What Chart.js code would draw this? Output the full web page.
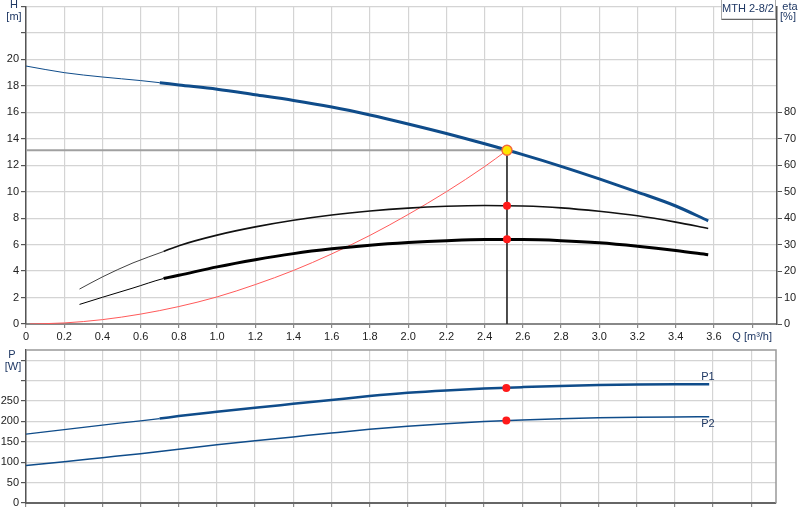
<!DOCTYPE html>
<html>
<head>
<meta charset="utf-8">
<script src="https://cdn.jsdelivr.net/npm/chart.js@4.4.1/dist/chart.umd.min.js"></script>
<style>
body{margin:0;background:#fff;}
#wrap{position:relative;width:800px;height:520px;}
#top{position:absolute;left:0;top:0;}
#bottom{position:absolute;left:0;top:345px;}
</style>
</head>
<body>
<div id="wrap">
<canvas id="top" width="800" height="345" style="width:800px;height:345px"></canvas>
<canvas id="bottom" width="800" height="175" style="width:800px;height:175px"></canvas>
</div>
<script>
// values
const qH = [0,0.2,0.4,0.6,0.7,0.8,1.0,1.2,1.4,1.6,1.8,2.0,2.2,2.4,2.6,2.8,3.0,3.2,3.4,3.57]
const headH = [19.5,19.0,18.67,18.4,18.24,18.07,17.75,17.33,16.9,16.4,15.8,15.12,14.4,13.62,12.8,11.92,10.97,9.97,8.92,7.8]

const qEta = [0.28,0.4,0.56,0.72,0.8,1.0,1.2,1.4,1.6,1.8,2.0,2.2,2.4,2.6,2.8,3.0,3.2,3.4,3.57]
const etaPump = [13.2,17.8,23.1,27.4,29.6,33.6,36.7,39.2,41.2,42.7,43.8,44.5,44.8,44.6,43.9,42.6,40.9,38.5,36.1]
const etaTotal = [7.4,10.1,13.6,17.2,18.4,21.6,24.3,26.6,28.4,29.8,30.8,31.5,31.9,31.9,31.5,30.7,29.4,27.8,26.2]

const qSys = [0.02,0.2,0.4,0.6,0.8,1.0,1.2,1.4,1.6,1.8,2.0,2.2,2.4,2.517]
const hSys = [0,0.08,0.33,0.75,1.32,2.05,2.98,4.05,5.3,6.7,8.28,10.0,11.9,13.13]

const qP = [0,0.2,0.4,0.6,0.7,0.8,1.0,1.2,1.4,1.6,1.8,2.0,2.2,2.4,2.6,2.8,3.0,3.2,3.4,3.58]
const p1 = [169,180,191,201.5,207,213,223.5,233.5,243,252.5,262,270,276,280.5,284,287,289,290.3,291,291.3]
const p2 = [92,101,111,121,126.5,132,142.5,152.5,162,171.5,180.5,188,194.5,199.5,203.5,206.5,208.7,210.2,211,211.3]

const dutyQ = 2.517
const dutyH = 13.13
const dutyEta = [44.7, 32.0]
const dutyP = [282, 202]

const hLabelMax = 20
const etaLabelMax = 80
const pLabelMax = 250

const blue = '#0f4c8a'
const gridCol = '#d4d4d4'
const axisCol = '#555'
const font = {family: 'Liberation Sans, Arial, sans-serif', size: 11}

const pts = (xs, ys) => xs.map((x, i) => ({x: x, y: ys[i]}))
const seg = (thin, thick) => ({borderWidth: c => c.p0.parsed.x < 0.69 ? thin : thick})

const fixSize = (w, h) => function(scale){
    if (w != null) scale.width = w
    if (h != null) scale.height = h
    scale.paddingTop = 0; scale.paddingBottom = 0
    scale.paddingLeft = 0; scale.paddingRight = 0
}

const xScale = (showLabels, height) => ({
    type: 'linear', min: 0, max: 3.93,
    afterFit: fixSize(null, height),
    ticks: {
        stepSize: 0.2, includeBounds: false, maxRotation: 0, autoSkip: false, padding: 2,
        font: font,
        color: c => c.tick.value > 3.7 ? '#1f3864' : '#222',
        callback: v => {
            if (!showLabels) return ''
            if (v > 3.7) return 'Q [m\u00b3/h]'
            return v === 0 ? '0' : v.toFixed(1)
        }
    },
    grid: {color: gridCol, lineWidth: 1.2, tickLength: 4, tickColor: '#888'},
    border: {color: '#888', width: 2}
})

const textPlugin = (items) => ({
    id: 'texts',
    afterDraw(chart){
        const ctx = chart.ctx
        ctx.save()
        ctx.font = '11px ' + font.family
        ctx.textAlign = 'center'
        ctx.textBaseline = 'middle'
        items.forEach(t => {
            ctx.fillStyle = t.color || '#1f3864'
            ctx.fillText(t.text, t.x, t.y)
        })
        ctx.restore()
    }
})

const boxPlugin = {
    id: 'model',
    afterDraw(chart){
        const ctx = chart.ctx
        ctx.save()
        ctx.fillStyle = '#fff'
        ctx.fillRect(721, 0, 55, 19)
        ctx.strokeStyle = '#aaa'
        ctx.lineWidth = 1
        ctx.strokeRect(721.5, -1, 54, 20)
        ctx.strokeStyle = '#666'
        ctx.beginPath()
        ctx.moveTo(721.5, 19.5); ctx.lineTo(776, 19.5)
        ctx.stroke()
        ctx.font = '11px ' + font.family
        ctx.fillStyle = '#1f3864'
        ctx.textAlign = 'center'
        ctx.textBaseline = 'middle'
        ctx.fillText('MTH 2-8/2', 748, 9)
        ctx.restore()
    }
}

const framePlugin = {
    id: 'frame',
    afterDraw(chart){
        const a = chart.chartArea
        const ctx = chart.ctx
        ctx.save()
        ctx.strokeStyle = '#999'
        ctx.lineWidth = 1.5
        ctx.beginPath()
        ctx.moveTo(a.left, a.top); ctx.lineTo(a.right, a.top); ctx.lineTo(a.right, a.bottom)
        ctx.stroke()
        ctx.restore()
    }
}

const pumpChart = () =>{
    const ctx = document.getElementById('top').getContext('2d')

    const data = {
        datasets: [
            {
                data: [{x: dutyQ, y: dutyH}],
                yAxisID: 'y', order: 0,
                showLine: false, pointRadius: 5, pointBackgroundColor: '#ffe600',
                pointBorderColor: '#f46a3a', pointBorderWidth: 1.5
            },
            {
                data: dutyEta.map(v => ({x: dutyQ, y: v})),
                yAxisID: 'y2', order: 1,
                showLine: false, pointRadius: 4, pointBackgroundColor: '#ff1a1a', pointBorderWidth: 0
            },
            {
                data: pts(qH, headH), yAxisID: 'y', order: 2,
                borderColor: blue, borderWidth: 3, cubicInterpolationMode: 'monotone', pointRadius: 0,
                segment: seg(1, 3)
            },
            {
                data: pts(qEta, etaPump), yAxisID: 'y2', order: 3,
                borderColor: '#111', borderWidth: 1.6, cubicInterpolationMode: 'monotone', pointRadius: 0,
                segment: seg(0.8, 1.6)
            },
            {
                data: pts(qEta, etaTotal), yAxisID: 'y2', order: 4,
                borderColor: '#000', borderWidth: 3, cubicInterpolationMode: 'monotone', pointRadius: 0,
                segment: seg(1, 3)
            },
            {
                data: pts(qSys, hSys), yAxisID: 'y', order: 5,
                borderColor: '#ff5a5a', borderWidth: 1, cubicInterpolationMode: 'monotone', pointRadius: 0
            },
            {
                data: [{x: dutyQ, y: dutyH}, {x: dutyQ, y: 0}], yAxisID: 'y', order: 6,
                borderColor: '#333', borderWidth: 1, pointRadius: 0
            },
            {
                data: [{x: 0, y: dutyH}, {x: dutyQ, y: dutyH}], yAxisID: 'y', order: 7,
                borderColor: '#a0a0a0', borderWidth: 2, pointRadius: 0
            },
        ]
    }

    new Chart(ctx, {
        type: 'line',
        data: data,
        options: {
            responsive: false,
            animation: false,
            layout: {padding: 0},
            plugins: {legend: {display: false}, tooltip: {enabled: false}},
            scales: {
                x: xScale(true, 21),
                y: {
                    position: 'left', min: 0, max: 24,
                    afterFit: fixSize(26, null),
                    ticks: {
                        stepSize: 2, includeBounds: false, padding: 2, font: font, color: '#222',
                        callback: v => v <= hLabelMax ? v : ''
                    },
                    grid: {color: gridCol, lineWidth: 1.2, tickLength: 5, tickColor: axisCol},
                    border: {color: axisCol, width: 1.5}
                },
                y2: {
                    position: 'right', min: 0, max: 120,
                    afterFit: fixSize(23, null),
                    ticks: {
                        stepSize: 10, includeBounds: false, padding: 2, font: font, color: '#222',
                        callback: v => v <= etaLabelMax ? v : ''
                    },
                    grid: {
                        drawOnChartArea: false, tickLength: 5,
                        tickColor: c => c.tick && c.tick.value <= etaLabelMax ? axisCol : 'rgba(0,0,0,0)'
                    },
                    border: {color: axisCol, width: 1.5}
                }
            }
        },
        plugins: [
            textPlugin([
                {text: 'H', x: 14, y: 5},
                {text: '[m]', x: 14, y: 17},
                {text: 'eta', x: 790, y: 7},
                {text: '[%]', x: 788, y: 17},
            ]),
            boxPlugin
        ]
    })
}

pumpChart()

const powerChart = () =>{
    const ctx = document.getElementById('bottom').getContext('2d')

    new Chart(ctx, {
        type: 'line',
        data: {
            datasets: [
                {
                    data: dutyP.map(v => ({x: dutyQ, y: v})), order: 0,
                    showLine: false, pointRadius: 4, pointBackgroundColor: '#ff1a1a', pointBorderWidth: 0
                },
                {
                    data: pts(qP, p1), order: 1,
                    borderColor: blue, borderWidth: 2.5, cubicInterpolationMode: 'monotone', pointRadius: 0,
                    segment: seg(1.2, 2.5)
                },
                {
                    data: pts(qP, p2), order: 2,
                    borderColor: blue, borderWidth: 1.5, cubicInterpolationMode: 'monotone', pointRadius: 0
                },
            ]
        },
        options: {
            responsive: false,
            animation: false,
            layout: {padding: {top: 5, right: 24, left: 0, bottom: 0}},
            plugins: {legend: {display: false}, tooltip: {enabled: false}},
            scales: {
                x: Object.assign(xScale(false, 17), {border: {color: '#666', width: 2}}),
                y: {
                    position: 'left', min: 0, max: 375,
                    afterFit: fixSize(26, null),
                    ticks: {
                        stepSize: 50, includeBounds: false, padding: 2, font: font, color: '#222',
                        callback: v => v <= pLabelMax ? v : ''
                    },
                    grid: {color: gridCol, lineWidth: 1.2, tickLength: 5, tickColor: axisCol},
                    border: {color: axisCol, width: 1.5}
                }
            }
        },
        plugins: [
            framePlugin,
            textPlugin([
                {text: 'P', x: 12, y: 10},
                {text: '[W]', x: 13, y: 22},
                {text: 'P1', x: 708, y: 32},
                {text: 'P2', x: 708, y: 79},
            ])
        ]
    })
}

powerChart()
</script>
</body>
</html>
